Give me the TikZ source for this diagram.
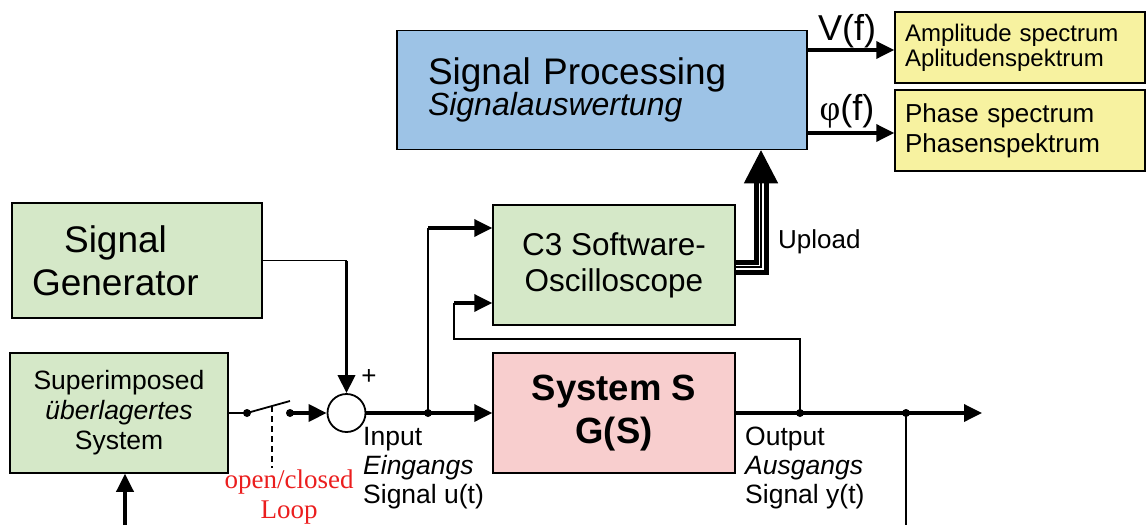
\documentclass[tikz,border=0pt]{standalone}
\usepackage{fontspec}
\setmainfont{Liberation Sans}
\newfontfamily\serifred{Liberation Serif}
\usetikzlibrary{shapes,arrows,arrows.meta}

\definecolor{procblue}{RGB}{157,195,230}
\definecolor{genfill}{RGB}{213,232,200}
\definecolor{sysfill}{RGB}{248,206,206}
\definecolor{specfill}{RGB}{247,242,160}
\definecolor{looptext}{RGB}{235,30,30}

\begin{document}
\begin{tikzpicture}[x=1pt, y=-1pt]
        % Styles
        \tikzstyle{block} = [rectangle, draw, line width=1.5pt, inner sep=0pt]
        \tikzstyle{line} = [draw, line width=3.5pt, -{Triangle[length=18pt, width=17pt]}]
        \tikzstyle{wire} = [draw, line width=1.8pt]
        \tikzstyle{caption} = [inner sep=0pt, anchor=north west, align=left, font=\fontsize{26.5}{29}\selectfont]

        \useasboundingbox (0,0) rectangle (1146,525);

        % Nodes
        \node [block, fill=procblue, minimum width=410pt, minimum height=119pt, text width=348pt, align=left, font=\fontsize{37}{31}\selectfont] (proc) at (602,90) {Signal Processing\\{\fontsize{32}{31}\selectfont\itshape Signalauswertung}};
        \node [block, fill=specfill, minimum width=250pt, minimum height=71pt, text width=230pt, align=left, font=\fontsize{24}{25}\selectfont] (amp) at (1020,47.5) {Amplitude spectrum\\Aplitudenspektrum};
        \node [block, fill=specfill, minimum width=250pt, minimum height=81pt, text width=230pt, align=left, font=\fontsize{26}{30}\selectfont] (phase) at (1020,130.5) {Phase spectrum\\Phasenspektrum};
        \node [block, fill=genfill, minimum width=242pt, minimum height=120pt, align=center, font=\fontsize{31.5}{36}\selectfont] (scope) at (614,265) {C3 Software-\\Oscilloscope};
        \node [block, fill=genfill, minimum width=250pt, minimum height=115pt, text width=210pt, align=left, font=\fontsize{37}{43}\selectfont] (gen) at (137,260.5) {\makebox[167pt]{Signal}\\Generator};
        \node [block, fill=genfill, minimum width=218pt, minimum height=120pt, align=center, font=\fontsize{26.5}{30}\selectfont] (super) at (119,413) {Superimposed\\\textit{überlagertes}\\System};
        \node [circle, draw, line width=1.8pt, minimum size=38pt, inner sep=0pt] (sum) at (346.5,413) {};
        \node [block, fill=sysfill, minimum width=242pt, minimum height=120pt, align=center, font=\bfseries\fontsize{36.5}{43}\selectfont] (sys) at (614,413) {System S\\G(S)};

        % Points
        \coordinate (sw1) at (247,413);
        \coordinate (sw2) at (290,413);
        \coordinate (blade) at (290,401);
        \coordinate (lever) at (272,406);
        \coordinate (leverend) at (272,468);
        \coordinate (tap1) at (428,413);
        \coordinate (tap2) at (800,413);
        \coordinate (tap3) at (906,413);
        \coordinate (yout) at (982,413);
        \coordinate (ydown) at (906,525);
        \coordinate (fbin) at (125,525);
        \coordinate (fbleft) at (454,339);
        \coordinate (vout) at (807,50);
        \coordinate (phout) at (807,133);
        \coordinate (upc) at (761,180);
        \coordinate (scin1) at ([yshift=37pt]scope.west);
        \coordinate (scin2) at ([yshift=-38pt]scope.west);

        % Edges
        \path [line] (vout) -- (vout -| amp.west);
        \path [line] (phout) -- (phout -| phase.west);
        \draw [line width=5pt, double=white, double distance=5pt] ([yshift=-2pt]scope.east) -| (upc); % Upload
        \draw [line width=1.2pt, -{Triangle[length=33pt, width=34pt]}] ([yshift=-2pt]scope.east) -| (upc |- proc.south);
        \path [wire] (gen.east) -- (gen.east -| sum.north);
        \path [line] (gen.east -| sum.north) -- (sum.north);
        \path [wire] (super.east) -- (sw1) -- (blade);
        \path [line] (sw2) -- (sum.west);
        \draw [line width=1.8pt, dash pattern=on 6pt off 4pt] (lever) -- (leverend);
        \path [line] (sum.east) -- (sys.west);
        \path [wire] (tap1) -- (tap1 |- scin1);
        \path [line] (tap1 |- scin1) -- (scin1);
        \path [line] (sys.east) -- (yout);
        \path [wire] (tap2) |- (fbleft) -- (fbleft |- scin2);
        \path [line] (fbleft |- scin2) -- (scin2);
        \path [wire] (tap3) -- (ydown);
        \path [line] (fbin) -- (fbin |- super.south);
        \foreach \p in {sw1, sw2, tap1, tap2, tap3}
            \fill (\p) circle (4pt);

        % Labels
        \node [font=\fontsize{26}{26}\selectfont] (plus) at (369,377) {+};
        \node [caption] (inlabel) at (363,427) {Input\\\textit{Eingangs}\\Signal u(t)};
        \node [caption] (outlabel) at (745,427) {Output\\\textit{Ausgangs}\\Signal y(t)};
        \node [anchor=west, inner sep=0pt, font=\fontsize{26}{28}\selectfont] (upload) at (778,242) {Upload};
        \node [font=\fontsize{36}{36}\selectfont] (vlabel) at (847,31) {V(f)};
        \node [font=\fontsize{36}{36}\selectfont] (philabel) at (847,111) {{\serifred φ}(f)};
        \node [text=looptext, align=center, font=\serifred\fontsize{27}{30}\selectfont] (looplabel) at (289,497) {open/closed\\Loop};
\end{tikzpicture}
\end{document}
